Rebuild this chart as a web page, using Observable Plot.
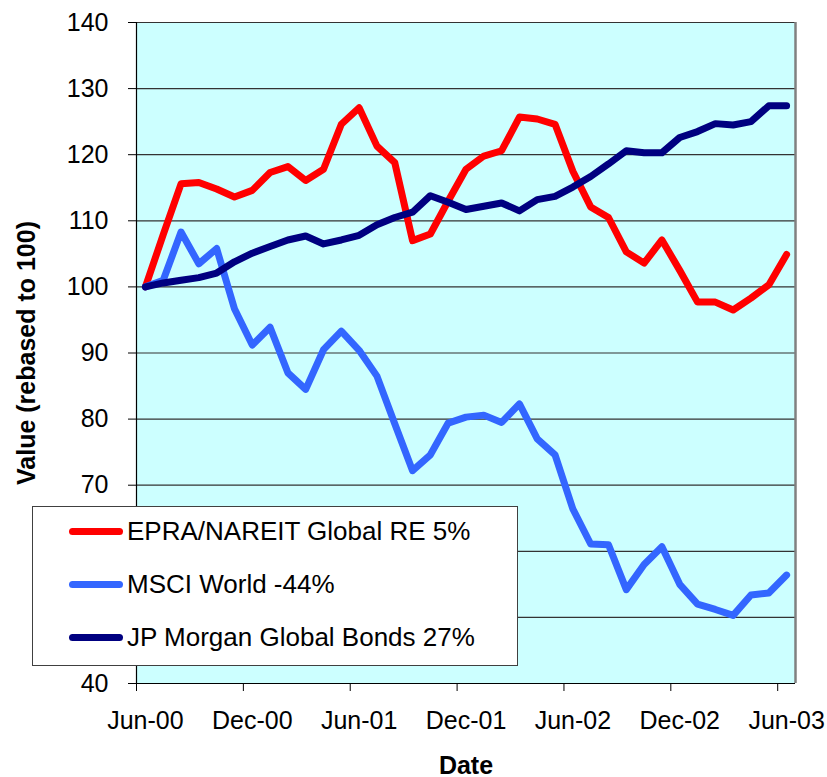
<!DOCTYPE html>
<html>
<head>
<meta charset="utf-8">
<script src="https://cdn.jsdelivr.net/npm/d3@7"></script>
<script src="https://cdn.jsdelivr.net/npm/@observablehq/plot@0.6"></script>
<style>
  html, body { margin: 0; padding: 0; background: #fff; }
  #wrap { position: relative; width: 827px; height: 777px; font-family: Arial, "Liberation Sans", sans-serif; }
  #wrap svg { display: block; }
  #legend { position: absolute; left: 32px; top: 506px; width: 486px; height: 160px; box-sizing: border-box;
            background: #fff; border: 1px solid #404040; }
  .row { position: absolute; left: 36px; height: 30px; display: flex; align-items: center; font-size: 26px; color: #000; white-space: nowrap; }
  .swatch { width: 54px; height: 7px; border-radius: 4px; margin-right: 4px; }
</style>
</head>
<body>
<div id="wrap"></div>
<script>
// ---- Data (monthly, Jun-00 .. Jun-03, rebased to 100) ----
const seriesNames = ["EPRA/NAREIT Global RE 5%", "MSCI World -44%", "JP Morgan Global Bonds 27%"];
const seriesColors = ["#FF0000", "#3366FF", "#000080"];
const epra = [100, 107.9, 115.6, 115.8, 114.8, 113.6, 114.6, 117.3, 118.2, 116.1, 117.8, 124.6, 127.1,
              121.3, 118.8, 107.0, 108.0, 113.0, 117.8, 119.8, 120.6, 125.7, 125.4, 124.6, 117.5,
              112.1, 110.5, 105.3, 103.6, 107.1, 102.5, 97.7, 97.7, 96.5, 98.3, 100.3, 104.9];
const msci = [100, 101.0, 108.3, 103.5, 105.8, 96.7, 91.2, 93.9, 87.0, 84.5, 90.5, 93.3, 90.4,
              86.5, 79.3, 72.2, 74.6, 79.4, 80.3, 80.6, 79.5, 82.3, 77.0, 74.6, 66.4,
              61.1, 61.0, 54.2, 58.0, 60.7, 55.0, 52.0, 51.2, 50.3, 53.4, 53.7, 56.4];
const bonds = [100, 100.6, 101.0, 101.4, 102.1, 103.8, 105.1, 106.1, 107.1, 107.7, 106.5, 107.1, 107.8,
               109.4, 110.5, 111.3, 113.8, 112.8, 111.7, 112.2, 112.7, 111.5, 113.2, 113.7, 115.1,
               116.7, 118.6, 120.6, 120.3, 120.3, 122.6, 123.5, 124.7, 124.5, 125.0, 127.4, 127.4];
const tickLabels = ["Jun-00", "Dec-00", "Jun-01", "Dec-01", "Jun-02", "Dec-02", "Jun-03"];
const yTicks = [40, 50, 60, 70, 80, 90, 100, 110, 120, 130, 140];
const yTitle = "Value (rebased to 100)";
const xTitle = "Date";

// ---- Build table ----
const allSeries = [epra, msci, bonds];
const rows = [];
allSeries.forEach((vals, s) => vals.forEach((v, i) => rows.push({i, v, s: seriesNames[s]})));
const nCat = epra.length;
const labelPos = tickLabels.map((_, j) => j * 6);          // category centers
const boundaryPos = labelPos.map(p => p - 0.5);             // category boundaries (tick marks)

const svg = Plot.plot({
  width: 827,
  height: 777,
  marginLeft: 136,
  marginRight: 32,
  marginTop: 22,
  marginBottom: 94,
  style: {fontFamily: 'Arial, "Liberation Sans", sans-serif', fontSize: "25px", background: "#fff", color: "#000"},
  x: {type: "linear", domain: [-0.5, nCat - 0.5]},
  y: {domain: [40, 140]},
  color: {domain: seriesNames, range: seriesColors},
  marks: [
    Plot.frame({fill: "#CCFFFF", stroke: null}),
    Plot.ruleY(yTicks, {stroke: "#333", strokeWidth: 1.2}),
    Plot.ruleX([nCat - 0.5], {stroke: "#808080", strokeWidth: 2.5}),
    Plot.line(rows, {x: "i", y: "v", z: "s", stroke: "s", strokeWidth: 7,
                     strokeLinejoin: "round", strokeLinecap: "round"}),
    Plot.ruleX([-0.5], {stroke: "#000", strokeWidth: 1.2}),
    Plot.ruleY([40], {stroke: "#000", strokeWidth: 1.2}),
    Plot.axisY({ticks: yTicks, tickSize: 8, tickPadding: 20, label: null, stroke: "#000"}),
    Plot.axisX({ticks: boundaryPos, tickSize: 8, tickFormat: () => "", label: null, stroke: "#000"}),
    Plot.axisX({ticks: labelPos, tickSize: 0, tickPadding: 28, label: null,
                tickFormat: d => tickLabels[Math.round(d / 6)]}),
    Plot.text([yTitle], {frameAnchor: "left", textAnchor: "middle", rotate: -90, dx: -110,
                         fontWeight: "bold", fontSize: 25}),
    Plot.text([xTitle], {frameAnchor: "bottom", textAnchor: "middle", dy: 90, fontWeight: "bold", fontSize: 25})
  ]
});

const wrap = document.getElementById("wrap");
wrap.appendChild(svg);

// ---- Legend (overlaid box as in the original) ----
const legend = document.createElement("div");
legend.id = "legend";
const rowTops = [9, 62, 115];
seriesNames.forEach((name, k) => {
  const r = document.createElement("div");
  r.className = "row";
  r.style.top = rowTops[k] + "px";
  const sw = document.createElement("div");
  sw.className = "swatch";
  sw.style.background = seriesColors[k];
  const t = document.createElement("span");
  t.textContent = name;
  r.appendChild(sw);
  r.appendChild(t);
  legend.appendChild(r);
});
wrap.appendChild(legend);
</script>
</body>
</html>
